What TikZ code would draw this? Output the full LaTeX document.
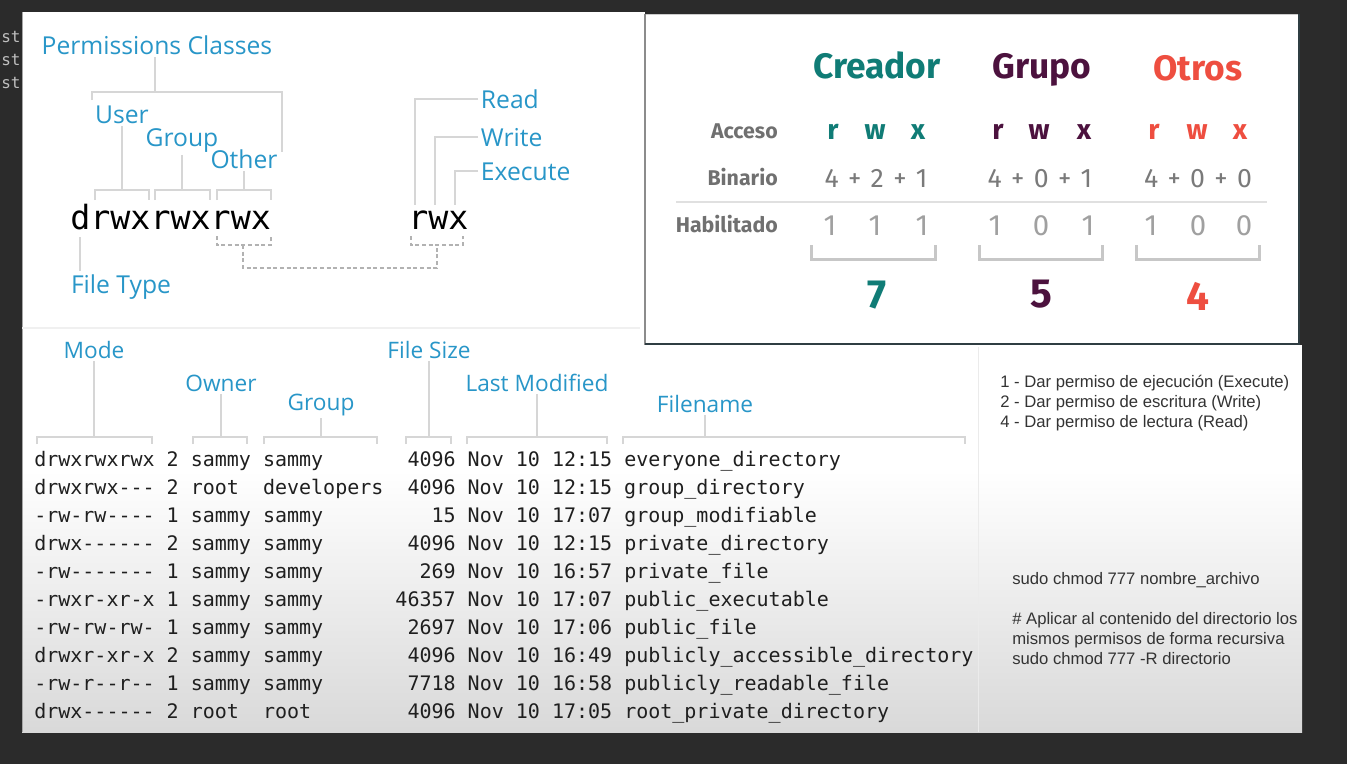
\documentclass[tikz,border=0pt]{standalone}
\usepackage{fontspec}
\setmainfont{Open Sans}
\setmonofont{DejaVu Sans Mono}
\newfontfamily\tabfont{Fira Sans}
\newfontfamily\notefont{Liberation Sans}
\definecolor{screen}{RGB}{43,43,43}
\definecolor{labelblue}{RGB}{40,150,200}
\definecolor{guidegray}{RGB}{214,214,214}
\definecolor{creadorc}{RGB}{16,124,118}
\definecolor{grupoc}{RGB}{76,18,62}
\definecolor{otrosc}{RGB}{238,78,64}
\definecolor{rowgray}{RGB}{112,112,112}
\definecolor{sumgray}{RGB}{122,122,122}
\definecolor{bitgray}{RGB}{160,160,160}
\definecolor{frameedge}{RGB}{47,61,66}
\tikzset{
  bluelabel/.style={text=labelblue,font=\fontsize{17}{20}\selectfont,inner sep=2pt,anchor=base},
  classlabel/.style={bluelabel,font=\fontsize{18.5}{22}\selectfont},
  guide/.style={draw=guidegray,line width=1.5pt},
  dashguide/.style={draw=black!30,line width=0.8pt,dash pattern=on 3pt off 2pt},
  bigperm/.style={font=\ttfamily\fontsize{25}{30}\selectfont,inner sep=0pt,anchor=base west},
  lsrow/.style={font=\ttfamily\fontsize{15}{18}\selectfont,text=black!88,inner sep=0pt,anchor=base west},
  termtxt/.style={font=\ttfamily\fontsize{12}{14}\selectfont,text=black!25,inner sep=0pt,anchor=base west},
  rowhead/.style={font=\tabfont\bfseries\fontsize{16}{19}\selectfont,text=rowgray,inner sep=0pt,anchor=base east},
  classhead/.style={font=\tabfont\bfseries\fontsize{26.5}{31}\selectfont,inner sep=0pt,anchor=base},
  acc/.style={font=\tabfont\bfseries\fontsize{21}{25}\selectfont,inner sep=0pt,anchor=base},
  sumtxt/.style={font=\tabfont\fontsize{20}{24}\selectfont,text=sumgray,inner sep=0pt,anchor=base},
  bit/.style={font=\tabfont\fontsize{22}{26}\selectfont,text=bitgray,inner sep=0pt,anchor=base},
  octal/.style={font=\tabfont\bfseries\fontsize{30.5}{36}\selectfont,inner sep=0pt,anchor=base},
  boxbrace/.style={draw=black!22,line width=2.25pt},
  notetxt/.style={font=\notefont\fontsize{12.5}{15}\selectfont,text=black!80,inner sep=0pt,anchor=base west}
}
\begin{document}
\frenchspacing
\begin{tikzpicture}[x=0.75pt,y=-0.75pt]
\useasboundingbox (0,0) rectangle (1347,764);
\fill[screen] (0,0) rectangle (1347,764);
\node[termtxt] (st1) at (1,42) {st};
\node[termtxt] (st2) at (1,65) {st};
\node[termtxt] (st3) at (1,88) {st};

\fill[white] (22,12) rectangle (645,732);
\fill[white] (645,345) rectangle (1302,732);
\shade[top color=white,bottom color=black!15] (22,470) rectangle (1302,732);
\draw[black!35,line width=0.75pt] (22,12) -- (22,732);
\draw[black!6,line width=1pt] (22,328) -- (640,328);
\draw[black!8,line width=0.75pt] (978,347) -- (978,732);

\fill[white] (645,14) rectangle (1299,345);
\draw[black!20,line width=0.75pt] (645,14) -- (1299,14);
\draw[black!45,line width=1.5pt] (645,14) -- (645,345);
\draw[frameedge,line width=1.5pt] (645,344) -- (1299,344) -- (1299,14);

\node[classlabel] (pclass) at (157,54) {Permissions Classes};
\node[classlabel] (user) at (122,123) {User};
\node[classlabel] (group) at (182,146) {Group};
\node[classlabel] (other) at (244,168) {Other};
\coordinate (pcfork) at (155,92);
\coordinate (userend) at (92,100);
\coordinate (otherend) at (282,152);
\draw[guide] (pclass.south -| pcfork) -- (pcfork);
\draw[guide] (userend) |- (pcfork) -| (otherend);
\coordinate (ubar) at (122,190);
\coordinate (gbar) at (182,190);
\coordinate (obar) at (244,190);
\draw[guide] (user.south -| ubar) -- (ubar);
\draw[guide] (group.south -| gbar) -- (gbar);
\draw[guide] (other.south -| obar) -- (obar);
\draw[guide] (95,200) |- (149,190) -- (149,200);
\draw[guide] (155,200) |- (210,190) -- (210,200);
\draw[guide] (217,200) |- (271,190) -- (271,200);

\node[bigperm] (perm) at (70,229) {drwxrwxrwx};
\node[bigperm] (rwx) at (408,229) {rwx};

\node[classlabel] (ftype) at (121,293) {File Type};
\coordinate (dmark) at (80,237);
\draw[guide] (dmark) -- (dmark |- ftype.north);

\draw[dashguide] (217,236) |- (271,245) -- (271,236);
\draw[dashguide] (411,236) |- (463,245) -- (463,236);
\coordinate (dashl) at (243,245);
\coordinate (dashr) at (437,245);
\draw[dashguide] (dashl) |- (437,268) -- (dashr);

\node[classlabel,anchor=base west] (read) at (478,108) {Read};
\node[classlabel,anchor=base west] (write) at (478,146) {Write};
\node[classlabel,anchor=base west] (execute) at (478,180) {Execute};
\coordinate (rtip) at (415,205);
\coordinate (wtip) at (435,205);
\coordinate (xtip) at (455,205);
\draw[guide] (read.west) -| (rtip);
\draw[guide] (write.west) -| (wtip);
\draw[guide] (execute.west) -| (xtip);

\node[classhead,text=creadorc] (creador) at (877,78) {Creador};
\node[classhead,text=grupoc] (grupo) at (1042,78) {Grupo};
\node[classhead,text=otrosc] (otros) at (1198,80) {Otros};
\node[rowhead] (acceso) at (778,138) {Acceso};
\node[rowhead] (binario) at (778,185) {Binario};
\node[rowhead] (habil) at (778,232) {Habilitado};
\node[acc,text=creadorc] (cr) at (833,139) {r};
\node[acc,text=creadorc] (cw) at (875,139) {w};
\node[acc,text=creadorc] (cx) at (918,139) {x};
\node[acc,text=grupoc] (gr) at (998,139) {r};
\node[acc,text=grupoc] (gw) at (1039,139) {w};
\node[acc,text=grupoc] (gx) at (1084,139) {x};
\node[acc,text=otrosc] (or) at (1154,139) {r};
\node[acc,text=otrosc] (ow) at (1197,139) {w};
\node[acc,text=otrosc] (ox) at (1240,139) {x};
\node[sumtxt] (csum) at (876,187) {4\kern7pt+\kern7pt2\kern7pt+\kern7pt1};
\node[sumtxt] (gsum) at (1040,187) {4\kern7pt+\kern7pt0\kern7pt+\kern7pt1};
\node[sumtxt] (osum) at (1198,187) {4\kern7pt+\kern7pt0\kern7pt+\kern7pt0};
\draw[black!12,line width=1.5pt] (676,202) -- (1267,202);
\node[bit] (cb1) at (830,235) {1};
\node[bit] (cb2) at (875,235) {1};
\node[bit] (cb3) at (922,235) {1};
\node[bit] (gb1) at (995,235) {1};
\node[bit] (gb2) at (1041,235) {0};
\node[bit] (gb3) at (1088,235) {1};
\node[bit] (ob1) at (1151,235) {1};
\node[bit] (ob2) at (1198,235) {0};
\node[bit] (ob3) at (1244,235) {0};
\draw[boxbrace] (811,245) |- (935,259) -- (935,245);
\draw[boxbrace] (979,245) |- (1102,259) -- (1102,245);
\draw[boxbrace] (1136,245) |- (1259,259) -- (1259,245);
\node[octal,text=creadorc] (coct) at (877,308) {7};
\node[octal,text=grupoc] (goct) at (1041,307) {5};
\node[octal,text=otrosc] (ooct) at (1198,310) {4};

\node[bluelabel] (mode) at (94,358) {Mode};
\node[bluelabel] (owner) at (221,391) {Owner};
\node[bluelabel] (lsgroup) at (321,410) {Group};
\node[bluelabel] (fsize) at (429,358) {File Size};
\node[bluelabel] (lastmod) at (537,391) {Last Modified};
\node[bluelabel] (fname) at (705,412) {Filename};
\coordinate (colbar) at (0,437);
\draw[guide] (mode.south) -- (mode.south |- colbar);
\draw[guide] (owner.south) -- (owner.south |- colbar);
\draw[guide] (lsgroup.south) -- (lsgroup.south |- colbar);
\draw[guide] (fsize.south) -- (fsize.south |- colbar);
\draw[guide] (lastmod.south) -- (lastmod.south |- colbar);
\draw[guide] (fname.south) -- (fname.south |- colbar);
\draw[guide] (37,444) |- (152,437) -- (152,444);
\draw[guide] (193,444) |- (247,437) -- (247,444);
\draw[guide] (264,444) |- (377,437) -- (377,444);
\draw[guide] (406,444) |- (451,437) -- (451,444);
\draw[guide] (467,444) |- (607,437) -- (607,444);
\draw[guide] (623,444) |- (965,437) -- (965,444);

\node[lsrow] (row1) at (34,466) {drwxrwxrwx~2~sammy~sammy~~~~~~~4096~Nov~10~12:15~everyone\_directory};
\node[lsrow] (row2) at (34,494) {drwxrwx---~2~root~~developers~~4096~Nov~10~12:15~group\_directory};
\node[lsrow] (row3) at (34,522) {-rw-rw----~1~sammy~sammy~~~~~~~~~15~Nov~10~17:07~group\_modifiable};
\node[lsrow] (row4) at (34,550) {drwx------~2~sammy~sammy~~~~~~~4096~Nov~10~12:15~private\_directory};
\node[lsrow] (row5) at (34,578) {-rw-------~1~sammy~sammy~~~~~~~~269~Nov~10~16:57~private\_file};
\node[lsrow] (row6) at (34,606) {-rwxr-xr-x~1~sammy~sammy~~~~~~46357~Nov~10~17:07~public\_executable};
\node[lsrow] (row7) at (34,634) {-rw-rw-rw-~1~sammy~sammy~~~~~~~2697~Nov~10~17:06~public\_file};
\node[lsrow] (row8) at (34,662) {drwxr-xr-x~2~sammy~sammy~~~~~~~4096~Nov~10~16:49~publicly\_accessible\_directory};
\node[lsrow] (row9) at (34,690) {-rw-r--r--~1~sammy~sammy~~~~~~~7718~Nov~10~16:58~publicly\_readable\_file};
\node[lsrow] (row10) at (34,718) {drwx------~2~root~~root~~~~~~~~4096~Nov~10~17:05~root\_private\_directory};

\node[notetxt] (note1) at (1000,387) {1 - Dar permiso de ejecución (Execute)};
\node[notetxt] (note2) at (1000,407) {2 - Dar permiso de escritura (Write)};
\node[notetxt] (note3) at (1000,427) {4 - Dar permiso de lectura (Read)};
\node[notetxt] (cmd1) at (1012,584) {sudo chmod 777 nombre\_archivo};
\node[notetxt] (cmt1) at (1012,624) {\# Aplicar al contenido del directorio los};
\node[notetxt] (cmt2) at (1012,644) {mismos permisos de forma recursiva};
\node[notetxt] (cmd2) at (1012,664) {sudo chmod 777 -R directorio};
\end{tikzpicture}
\end{document}
